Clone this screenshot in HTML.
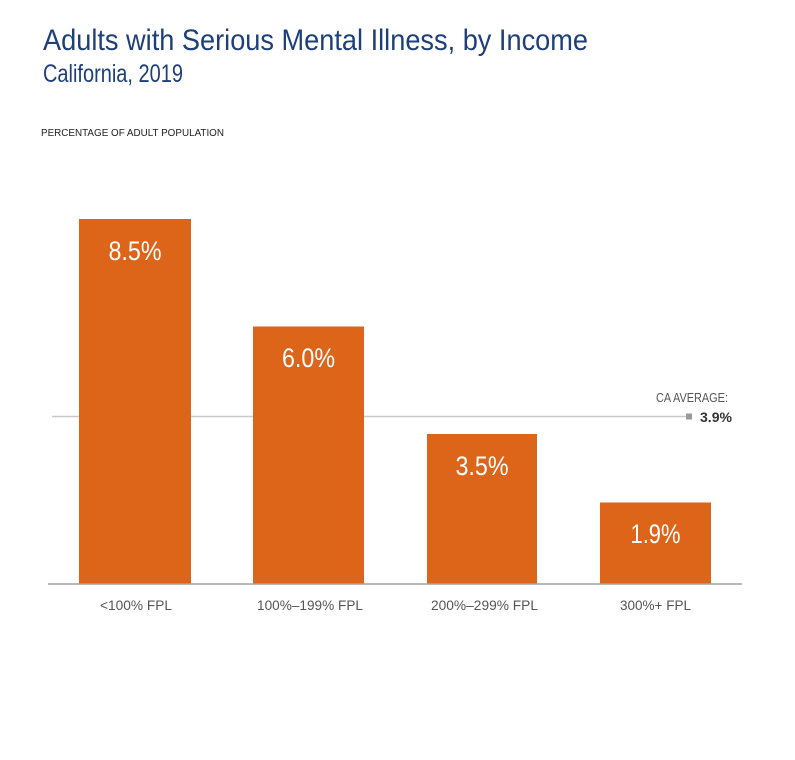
<!DOCTYPE html>
<html>
<head>
<meta charset="utf-8">
<style>
  html, body { margin: 0; padding: 0; background: #ffffff; }
  svg { display: block; }
  text { font-family: "Liberation Sans Narrow", "Liberation Sans", sans-serif; }
</style>
</head>
<body>
<svg width="795" height="760" viewBox="0 0 795 760" xmlns="http://www.w3.org/2000/svg">
  <rect x="0" y="0" width="795" height="760" fill="#ffffff"/>

  <!-- Title -->
  <text x="43" y="50" font-size="30" fill="#1e3f7a" textLength="545" lengthAdjust="spacingAndGlyphs">Adults with Serious Mental Illness, by Income</text>
  <text x="43" y="82" font-size="25" fill="#1e3f7a" textLength="140" lengthAdjust="spacingAndGlyphs">California, 2019</text>

  <!-- Axis title -->
  <text x="41" y="136" font-size="10.5" fill="#222222" textLength="183" lengthAdjust="spacingAndGlyphs">PERCENTAGE OF ADULT POPULATION</text>

  <!-- CA average line -->
  <line x1="52" y1="416.5" x2="686" y2="416.5" stroke="#c9c9c9" stroke-width="1.5"/>
  <rect x="686" y="413.5" width="6" height="6" fill="#9a9a9a"/>
  <text x="656" y="402" font-size="12.5" fill="#555555" textLength="72" lengthAdjust="spacingAndGlyphs">CA AVERAGE:</text>
  <text x="700" y="422" font-size="14" font-weight="bold" fill="#333333" textLength="32" lengthAdjust="spacingAndGlyphs">3.9%</text>

  <!-- Bars -->
  <rect x="79" y="219" width="112" height="365" fill="#dc651a"/>
  <rect x="253" y="326.5" width="111" height="257.5" fill="#dc651a"/>
  <rect x="427" y="434" width="110" height="150" fill="#dc651a"/>
  <rect x="600" y="502.5" width="111" height="81.5" fill="#dc651a"/>

  <!-- Bar values -->
  <text x="135" y="260" font-size="27" fill="#ffffff" text-anchor="middle" textLength="53" lengthAdjust="spacingAndGlyphs">8.5%</text>
  <text x="308.5" y="367" font-size="27" fill="#ffffff" text-anchor="middle" textLength="53" lengthAdjust="spacingAndGlyphs">6.0%</text>
  <text x="482" y="475" font-size="27" fill="#ffffff" text-anchor="middle" textLength="53" lengthAdjust="spacingAndGlyphs">3.5%</text>
  <text x="655.5" y="543" font-size="27" fill="#ffffff" text-anchor="middle" textLength="50" lengthAdjust="spacingAndGlyphs">1.9%</text>

  <!-- Axis baseline -->
  <line x1="48" y1="584" x2="742" y2="584" stroke="#a3a3a3" stroke-width="1.5"/>

  <!-- Category labels -->
  <text x="136" y="610" font-size="14" fill="#555555" text-anchor="middle" textLength="72" lengthAdjust="spacingAndGlyphs">&lt;100% FPL</text>
  <text x="310" y="610" font-size="14" fill="#555555" text-anchor="middle" textLength="106" lengthAdjust="spacingAndGlyphs">100%–199% FPL</text>
  <text x="484.5" y="610" font-size="14" fill="#555555" text-anchor="middle" textLength="107" lengthAdjust="spacingAndGlyphs">200%–299% FPL</text>
  <text x="655.5" y="610" font-size="14" fill="#555555" text-anchor="middle" textLength="71" lengthAdjust="spacingAndGlyphs">300%+ FPL</text>
</svg>
</body>
</html>
